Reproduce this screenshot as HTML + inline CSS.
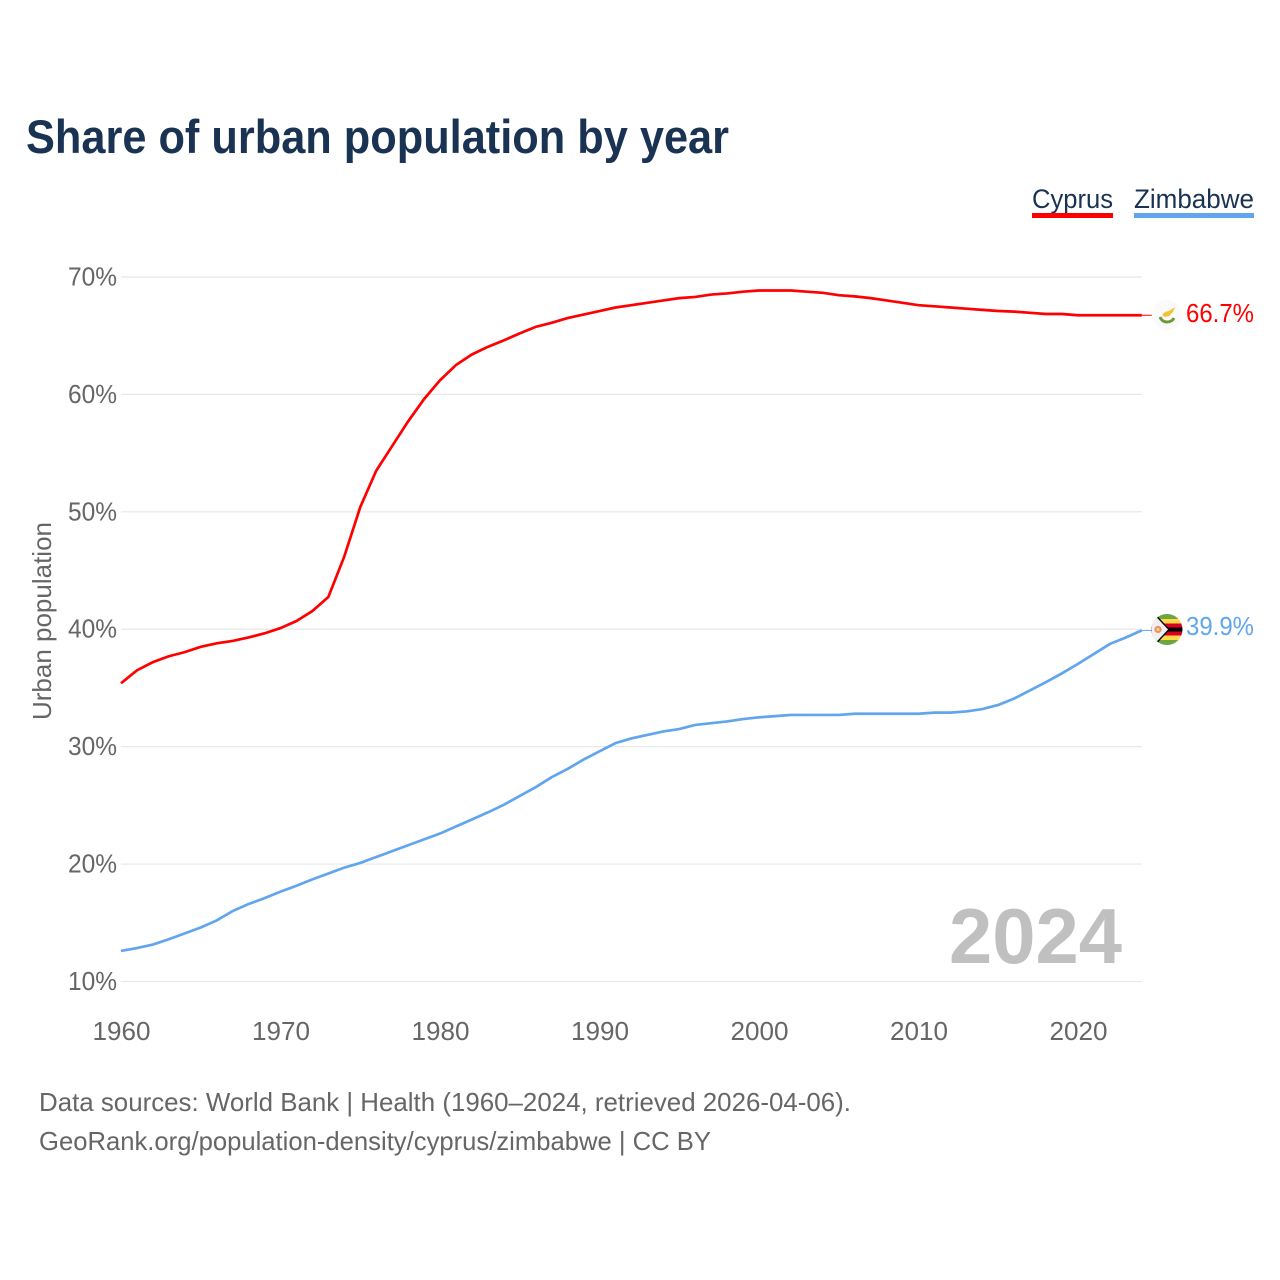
<!DOCTYPE html>
<html lang="en">
<head>
<meta charset="utf-8">
<title>Share of urban population by year</title>
<style>
html,body{margin:0;padding:0;background:#fff;width:1280px;height:1280px;overflow:hidden}
svg{display:block;font-family:"Liberation Sans",sans-serif}
</style>
</head>
<body>
<svg id="chart" width="1280" height="1280" viewBox="0 0 1280 1280" xmlns="http://www.w3.org/2000/svg">
  <rect width="1280" height="1280" fill="#ffffff"/>
  <text x="26" y="153" font-size="47" font-weight="700" fill="#1a3353" textLength="703" lengthAdjust="spacingAndGlyphs">Share of urban population by year</text>

  <g>
    <g>
      <text x="1032" y="208" font-size="27" fill="#1a3353" textLength="81" lengthAdjust="spacingAndGlyphs">Cyprus</text>
      <rect x="1032" y="213" width="81" height="5" fill="#ff0000"/>
    </g>
    <g>
      <text x="1134" y="208" font-size="27" fill="#1a3353" textLength="120" lengthAdjust="spacingAndGlyphs">Zimbabwe</text>
      <rect x="1134" y="213" width="120" height="5" fill="#60a5ee"/>
    </g>
  </g>

  <text transform="translate(51,621) rotate(-90)" text-anchor="middle" font-size="26" fill="#666666" textLength="198" lengthAdjust="spacingAndGlyphs">Urban population</text>

  <g id="grid"></g>
  <g id="yticks"></g>
  <g id="xticks"></g>

  <text x="1122" y="963" text-anchor="end" font-size="78" font-weight="700" fill="#c0c0c0" textLength="173" lengthAdjust="spacingAndGlyphs">2024</text>

  <g id="series"></g>

  <g transform="translate(1167,315)">
    <circle r="15" fill="#fafafa"/>
    <path d="M-5,0 L-2,-3 L2,-4 L8,-8 L6,-3 L2,1 L-2,2 Z" fill="#f4c430"/>
    <path d="M-7,2 Q-5,7 0,7 Q5,7 7,3" fill="none" stroke="#6a9a3a" stroke-width="3"/>
  </g>

  <g transform="translate(1167,629.5)">
    <clipPath id="zw-clip"><circle r="15.5"/></clipPath>
    <g clip-path="url(#zw-clip)">
      <rect x="-16" y="-16" width="32" height="5.5" fill="#6da544"/>
      <rect x="-16" y="-10.5" width="32" height="4.5" fill="#ffda44"/>
      <rect x="-16" y="-6" width="32" height="4" fill="#d80027"/>
      <rect x="-16" y="-2" width="32" height="4" fill="#000000"/>
      <rect x="-16" y="2" width="32" height="4" fill="#d80027"/>
      <rect x="-16" y="6" width="32" height="4.5" fill="#ffda44"/>
      <rect x="-16" y="10.5" width="32" height="5.5" fill="#6da544"/>
      <path d="M-16,-16 L-13,-16 L2,0 L-13,16 L-16,16 Z" fill="#f0f0f0" stroke="#000000" stroke-width="1.4"/>
      <circle cx="-9" cy="0" r="3.6" fill="#ec8a78"/>
      <circle cx="-9" cy="0" r="1.6" fill="#ffda44"/>
    </g>
  </g>

  <text id="val-cy" x="1254" y="322" text-anchor="end" font-size="26" fill="#ff0000" textLength="68" lengthAdjust="spacingAndGlyphs"></text>
  <text id="val-zw" x="1254" y="635" text-anchor="end" font-size="26" fill="#60a5ee" textLength="68" lengthAdjust="spacingAndGlyphs"></text>

  <text x="39" y="1111" font-size="26" fill="#666666" textLength="812" lengthAdjust="spacingAndGlyphs">Data sources: World Bank | Health (1960–2024, retrieved 2026-04-06).</text>
  <text x="39" y="1150" font-size="26" fill="#666666" textLength="672" lengthAdjust="spacingAndGlyphs">GeoRank.org/population-density/cyprus/zimbabwe | CC BY</text>
</svg>
<script>
const startYear = 1960;
const xTickYears = [1960, 1970, 1980, 1990, 2000, 2010, 2020];
const yTickValues = [10, 20, 30, 40, 50, 60, 70];
const cyprusValues = [35.4,36.5,37.2,37.7,38.05,38.5,38.8,39.0,39.3,39.65,40.1,40.7,41.55,42.75,46.2,50.4,53.5,55.6,57.7,59.6,61.2,62.5,63.4,64.05,64.6,65.2,65.75,66.1,66.5,66.8,67.1,67.4,67.6,67.8,68.0,68.2,68.3,68.5,68.6,68.75,68.85,68.85,68.85,68.75,68.65,68.45,68.35,68.2,68.0,67.8,67.6,67.5,67.4,67.3,67.2,67.1,67.05,66.95,66.85,66.85,66.74,66.74,66.74,66.74,66.74];
const zimbabweValues = [12.6,12.85,13.15,13.6,14.1,14.6,15.2,16.0,16.6,17.1,17.65,18.15,18.7,19.2,19.7,20.1,20.6,21.1,21.6,22.1,22.6,23.2,23.8,24.4,25.05,25.8,26.55,27.4,28.1,28.9,29.6,30.3,30.7,31.0,31.3,31.5,31.85,32.0,32.15,32.35,32.5,32.6,32.7,32.7,32.7,32.7,32.8,32.8,32.8,32.8,32.8,32.9,32.9,33.0,33.2,33.55,34.1,34.8,35.5,36.25,37.05,37.9,38.75,39.3,39.9];

const NS = 'http://www.w3.org/2000/svg';
function xScale(year) { return 121 + (year - 1960) * 15.95; }
function yScale(v) { return 981.5 - (v - 10) * 11.742; }

const grid = document.getElementById('grid');
const yticks = document.getElementById('yticks');
const xticks = document.getElementById('xticks');
const series = document.getElementById('series');

yTickValues.forEach(function (v) {
  const line = document.createElementNS(NS, 'line');
  
  
  line.setAttribute('x1', 121);
  line.setAttribute('x2', 1142);
  line.setAttribute('y1', yScale(v));
  line.setAttribute('y2', yScale(v));
  line.setAttribute('stroke', '#e8e8e8');
  line.setAttribute('stroke-width', '1.2');
  grid.appendChild(line);

  const t = document.createElementNS(NS, 'text');
  
  
  t.setAttribute('x', 117);
  t.setAttribute('y', yScale(v) + 8.5);
  t.setAttribute('text-anchor', 'end');
  t.setAttribute('font-size', '26');
  t.setAttribute('fill', '#666666');
  t.setAttribute('textLength', '49');
  t.setAttribute('lengthAdjust', 'spacingAndGlyphs');
  t.textContent = v + '%';
  yticks.appendChild(t);
});

xTickYears.forEach(function (year) {
  const t = document.createElementNS(NS, 'text');
  
  
  t.setAttribute('x', xScale(year) + 0.5);
  t.setAttribute('y', 1040);
  t.setAttribute('text-anchor', 'middle');
  t.setAttribute('font-size', '26');
  t.setAttribute('fill', '#666666');
  t.setAttribute('textLength', '58');
  t.setAttribute('lengthAdjust', 'spacingAndGlyphs');
  t.textContent = year;
  xticks.appendChild(t);
});

function pointsFor(values) {
  return values.map(function (v, i) {
    return xScale(startYear + i).toFixed(2) + ',' + yScale(v).toFixed(2);
  }).join(' ');
}

const lastYear = startYear + cyprusValues.length - 1;

const cyprusLeader = document.createElementNS(NS, 'line');


cyprusLeader.setAttribute('x1', xScale(lastYear));
cyprusLeader.setAttribute('x2', xScale(lastYear) + 10);
cyprusLeader.setAttribute('y1', yScale(cyprusValues[cyprusValues.length - 1]));
cyprusLeader.setAttribute('y2', yScale(cyprusValues[cyprusValues.length - 1]));
cyprusLeader.setAttribute('stroke', '#ff0000');
cyprusLeader.setAttribute('stroke-width', '1');
series.appendChild(cyprusLeader);

const zimbabweLeader = document.createElementNS(NS, 'line');


zimbabweLeader.setAttribute('x1', xScale(lastYear));
zimbabweLeader.setAttribute('x2', xScale(lastYear) + 10);
zimbabweLeader.setAttribute('y1', yScale(zimbabweValues[zimbabweValues.length - 1]));
zimbabweLeader.setAttribute('y2', yScale(zimbabweValues[zimbabweValues.length - 1]));
zimbabweLeader.setAttribute('stroke', '#60a5ee');
zimbabweLeader.setAttribute('stroke-width', '1');
series.appendChild(zimbabweLeader);

const cyprusLine = document.createElementNS(NS, 'polyline');


cyprusLine.setAttribute('points', pointsFor(cyprusValues));
cyprusLine.setAttribute('fill', 'none');
cyprusLine.setAttribute('stroke', '#ff0000');
cyprusLine.setAttribute('stroke-width', '2.7');
series.appendChild(cyprusLine);

const zimbabweLine = document.createElementNS(NS, 'polyline');


zimbabweLine.setAttribute('points', pointsFor(zimbabweValues));
zimbabweLine.setAttribute('fill', 'none');
zimbabweLine.setAttribute('stroke', '#60a5ee');
zimbabweLine.setAttribute('stroke-width', '2.7');
series.appendChild(zimbabweLine);

document.getElementById('val-cy').textContent = cyprusValues[cyprusValues.length - 1].toFixed(1) + '%';
document.getElementById('val-zw').textContent = zimbabweValues[zimbabweValues.length - 1].toFixed(1) + '%';
</script>
</body>
</html>
